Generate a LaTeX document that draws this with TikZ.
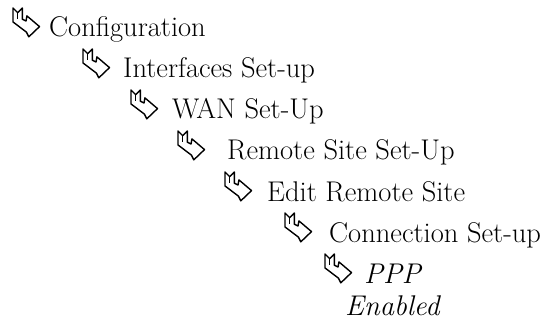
\documentclass[tikz,border=0pt]{standalone}
\usepackage{fontspec}
\begin{document}
\begin{tikzpicture}[x=1pt,y=-1pt,
  item/.style={anchor=base west,inner sep=0pt,font=\fontsize{28.5}{32}\selectfont},
  itemit/.style={item,font=\fontsize{28.5}{32}\selectfont\itshape},
  hookarrow/.pic={
    \draw[line width=1.4pt,line join=round,scale=0.93]
      (0,0) -- (5,5) -- (10,0) -- (10,12) -- (14,14) -- (15,8.5) -- (28.5,20)
      -- (17,31) -- (14.5,26) -- (0,15) -- cycle;
    \draw[line width=1.2pt,line join=round,scale=0.93]
      (5,5) -- (5,12);
  }]
\useasboundingbox (0,0) rectangle (545,320);
\pic at (13,8) {hookarrow};
\node[item] (n1) at (49,37) {Configuration};
\pic at (83,49) {hookarrow};
\node[item] (n2) at (123,78) {Interfaces Set-up};
\pic at (131,90) {hookarrow};
\node[item] (n3) at (172,119) {WAN Set-Up};
\pic at (178,131) {hookarrow};
\node[item] (n4) at (227,160) {Remote Site Set-Up};
\pic at (225,172) {hookarrow};
\node[item] (n5) at (267,201) {Edit Remote Site};
\pic at (285,213) {hookarrow};
\node[item] (n6) at (329,242) {Connection Set-up};
\pic at (325,254) {hookarrow};
\node[itemit] (n7) at (364,283) {PPP};
\node[itemit] (n8) at (345,315) {Enabled};
\end{tikzpicture}
\end{document}
